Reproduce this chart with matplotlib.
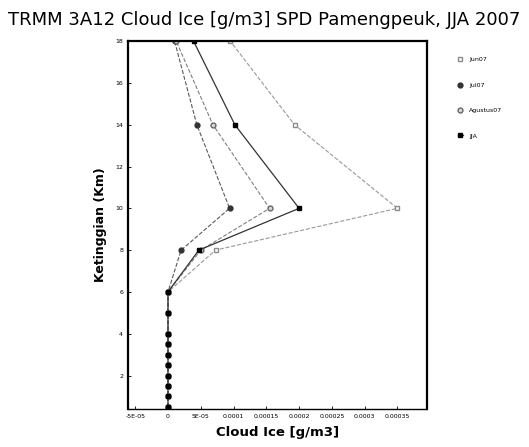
import matplotlib
matplotlib.use("Agg")
import matplotlib.pyplot as plt

# TRMM 3A12 vertical levels (km)
levels = [0.5, 1, 1.5, 2, 2.5, 3, 3.5, 4, 5, 6, 8, 10, 14, 18]

# cloud ice (g/m3)
jun07 = [0, 0, 0, 0, 0, 0, 0, 0, 0, 0, 0.0000725, 0.00035, 0.000193, 0.000095]
jul07 = [0, 0, 0, 0, 0, 0, 0, 0, 0, 0, 0.00002, 0.000094, 0.000044, 0.00001]
agu07 = [0, 0, 0, 0, 0, 0, 0, 0, 0, 0, 0.00005, 0.000155, 0.0000685, 0.0000125]
jja = [0, 0, 0, 0, 0, 0, 0, 0, 0, 0, 0.000047, 0.0002, 0.000102, 0.000039]

xticks = [-0.00005, 0, 0.00005, 0.0001, 0.00015, 0.0002, 0.00025, 0.0003, 0.00035]
xticklabels = ["-5E-05", "0", "5E-05", "0.0001", "0.00015", "0.0002", "0.00025", "0.0003", "0.00035"]
yticks = [2, 4, 6, 8, 10, 12, 14, 16, 18]

fig = plt.figure(figsize=(5.29, 4.47), dpi=100)
ax = fig.add_axes([0.242, 0.085, 0.565, 0.823])

ax.plot(jun07, levels, ls='--', lw=0.8, color='0.6', marker='s', ms=3,
        mfc='white', mec='0.55', label='Jun07')
ax.plot(jul07, levels, ls='--', lw=0.8, color='0.35', marker='o', ms=3.5,
        mfc='0.2', mec='0.2', label='Jul07')
ax.plot(agu07, levels, ls='--', lw=0.8, color='0.5', marker='o', ms=3.5,
        mfc='0.85', mec='0.4', label='Agustus07')
ax.plot(jja, levels, ls='-', lw=0.9, color='0.2', marker='s', ms=3.5,
        mfc='black', mec='black', label='JJA')

ax.set_xlim(-0.000061, 0.000395)
ax.set_ylim(0.4, 18)
ax.set_xticks(xticks)
ax.set_xticklabels(xticklabels)
ax.set_yticks(yticks)
ax.tick_params(labelsize=4.5, direction='in', length=2, width=0.6)

for side in ['left', 'right', 'top']:
    ax.spines[side].set_linewidth(1.6)
ax.spines['bottom'].set_linewidth(1.0)
ax.spines['bottom'].set_linestyle((0, (3, 1)))

ax.set_xlabel("Cloud Ice [g/m3]", fontsize=9.5, fontweight='bold', labelpad=5)
ax.set_ylabel("Ketinggian (Km)", fontsize=9, fontweight='bold', labelpad=6)

fig.text(0.5, 0.955, "TRMM 3A12 Cloud Ice [g/m3] SPD Pamengpeuk, JJA 2007",
         ha='center', va='center', fontsize=13)

fig.legend(loc='upper left', bbox_to_anchor=(0.855, 0.885), frameon=False,
           fontsize=4.5, labelspacing=3.2, handlelength=0.8, handletextpad=1.0)

fig.savefig("out.png", dpi=100)
